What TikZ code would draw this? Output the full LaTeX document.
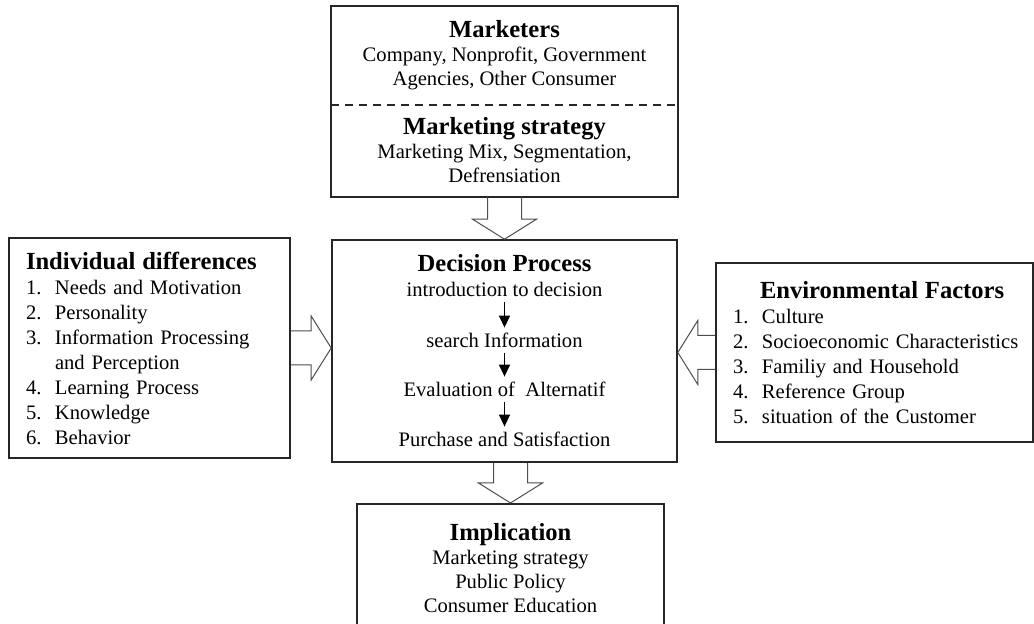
\documentclass[tikz,border=0pt]{standalone}
\usepackage{fontspec}
\setmainfont{Liberation Serif}
\usetikzlibrary{arrows.meta,positioning,calc}

\newcommand{\boxtitle}[1]{{\fontsize{12.3}{12.5}\selectfont\bfseries #1}}
\newcommand{\numitem}[2]{\mbox{\makebox[14.5pt][l]{#1}#2}}
\newcommand{\hollowarrow}[2]{%
  \coordinate (ah) at ($(#2)!10pt!(#1)$);
  \draw[blockarrow] ($(#1)!8.5pt!90:(#2)$) -- ($(ah)!8.5pt!90:(#2)$)
    -- ($(ah)!16pt!90:(#2)$) -- (#2) -- ($(ah)!16pt!-90:(#2)$)
    -- ($(ah)!8.5pt!-90:(#2)$) -- ($(#1)!8.5pt!-90:(#2)$);
}

\begin{document}
\begin{tikzpicture}[
    x=0.5pt, y=-0.5pt,
    frame/.style={draw=black!85, line width=0.8pt},
    box/.style={rectangle, frame, align=center, inner sep=0pt,
                font=\fontsize{10.3}{12}\selectfont},
    listbox/.style={rectangle, frame, align=left, inner xsep=8.5pt, inner ysep=0pt,
                    font=\fontsize{10.3}{12.5}\selectfont},
    stepnode/.style={inner sep=0.5pt, text height=9.5pt, text depth=2pt, anchor=base,
                     font=\fontsize{10.3}{12}\selectfont},
    steparrow/.style={-{Triangle[length=6pt,width=5.5pt]}, line width=0.7pt},
    blockarrow/.style={draw=black!70, line width=0.5pt, line join=miter}
]
\useasboundingbox (0,0) rectangle (1034,624);

% Nodes
\node[box, draw=none, minimum width=172.5pt, minimum height=48.5pt] (mkt) at (504.5,55.5)
  {\boxtitle{Marketers}\\Company, Nonprofit, Government\\Agencies, Other Consumer};
\node[box, draw=none, minimum width=172.5pt, minimum height=46pt] (strat) at (504.5,150)
  {\boxtitle{Marketing strategy}\\Marketing Mix, Segmentation,\\Defrensiation};
\draw[frame] (mkt.north west) rectangle (strat.south east);
\draw[frame, dash pattern=on 4pt off 3pt] (mkt.south west) -- (mkt.south east);

\node[box, minimum width=172.5pt, minimum height=111pt] (dec) at (504.5,351) {};
\node[stepnode, font=\fontsize{12.3}{12.5}\selectfont\bfseries] (dectitle) at (504.5,272) {Decision Process};
\node[stepnode] (intro) at (504.5,297) {introduction to decision};
\node[stepnode] (search) at (504.5,348) {search Information};
\node[stepnode] (eval) at (504.5,397) {Evaluation of\ \ Alternatif};
\node[stepnode] (purch) at (504.5,447) {Purchase and Satisfaction};

\node[listbox, text width=123.5pt, minimum height=110pt] (indiv) at (149.5,348)
  {\boxtitle{Individual differences}\\
   \numitem{1.}{Needs and Motivation}\\
   \numitem{2.}{Personality}\\
   \numitem{3.}{Information Processing}\\
   \numitem{}{and Perception}\\
   \numitem{4.}{Learning Process}\\
   \numitem{5.}{Knowledge}\\
   \numitem{6.}{Behavior}};

\node[listbox, text width=141.5pt, minimum height=89.5pt] (env) at (874.5,352.5)
  {\hspace*{13.5pt}\boxtitle{Environmental Factors}\\
   \numitem{1.}{Culture}\\
   \numitem{2.}{Socioeconomic Characteristics}\\
   \numitem{3.}{Familiy and Household}\\
   \numitem{4.}{Reference Group}\\
   \numitem{5.}{situation of the Customer}};

\node[box, anchor=north, minimum width=153.5pt, minimum height=64pt] (impl) at (510.5,503)
  {\boxtitle{Implication}\\Marketing strategy\\Public Policy\\Consumer Education};

% Arrows
\draw[steparrow] (intro) -- (search);
\draw[steparrow] (search) -- (eval);
\draw[steparrow] (eval) -- (purch);

\coordinate (leftB) at (indiv.east -| dec.west);
\coordinate (rightB) at (env.west -| dec.east);
\coordinate (botA) at (impl.north |- dec.south);
\hollowarrow{strat.south}{dec.north}
\hollowarrow{indiv.east}{leftB}
\hollowarrow{env.west}{rightB}
\hollowarrow{botA}{impl.north}

\end{tikzpicture}
\end{document}
